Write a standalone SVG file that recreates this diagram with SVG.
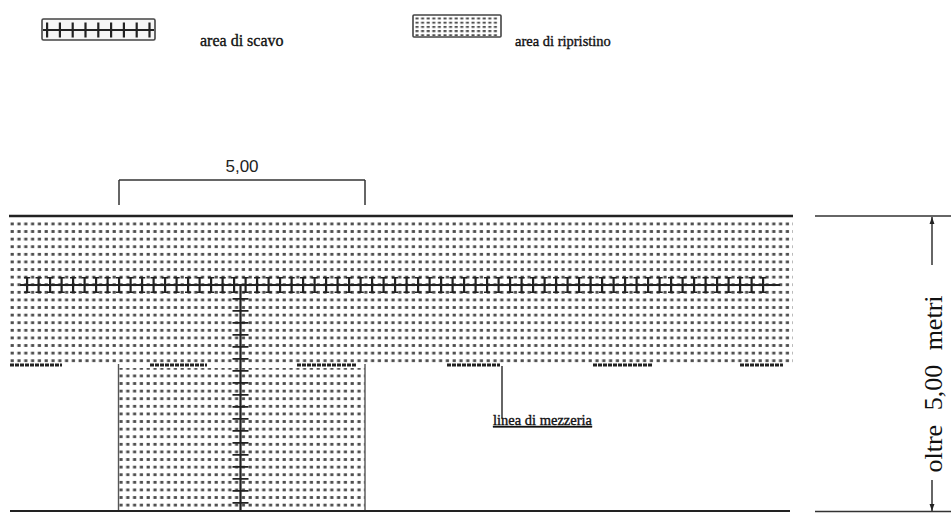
<svg xmlns="http://www.w3.org/2000/svg" width="951" height="513" viewBox="0 0 951 513">
<style>
.serif{font-family:"Liberation Serif","Times New Roman",serif;fill:#111;stroke:#111;stroke-width:0.35}
.sans{font-family:"Liberation Sans",Arial,sans-serif;fill:#222}
.ln{stroke:#333;fill:none}
.thin{stroke:#555;stroke-width:1.4;fill:none}
.tick{stroke:#222;fill:none}
</style>
<defs>
<pattern id="dots" patternUnits="userSpaceOnUse" x="10" y="222.5" width="6.8" height="7.6">
<rect x="0.6" y="0" width="3.2" height="2.8" fill="#4d4d4d"/>
</pattern>
<pattern id="dotsL" patternUnits="userSpaceOnUse" x="415" y="17.5" width="5.6" height="4.2">
<rect x="0.5" y="0" width="3" height="2" fill="#4d4d4d"/>
</pattern>
<marker id="arr" viewBox="0 0 10 10" refX="10" refY="5" markerWidth="7" markerHeight="7" orient="auto-start-reverse" markerUnits="userSpaceOnUse">
<path d="M0,1.5 L10,5 L0,8.5 z" fill="#222"/>
</marker>
</defs>

<g id="legend-scavo">
<rect x="42" y="19" width="113" height="21" rx="1.5" fill="#f6f6f6" stroke="#444" stroke-width="1.6"/>
<line class="tick" x1="43" y1="30" x2="154" y2="30" stroke-width="1.8"/>
<line class="tick" x1="46" y1="30" x2="154" y2="30" stroke-width="15" stroke-dasharray="2.2 10.6"/>
<text class="serif" x="200" y="46" font-size="16">area di scavo</text>
</g>

<g id="legend-ripristino">
<rect x="413" y="15" width="88" height="22" rx="1" fill="#fff" stroke="#444" stroke-width="1.6"/>
<rect x="415" y="17" width="84" height="19" fill="url(#dotsL)"/>
<text class="serif" x="515" y="46" font-size="14.5">area di ripristino</text>
</g>

<g id="band">
<rect x="10" y="220" width="783" height="146" fill="url(#dots)"/>
<line x1="9" y1="216" x2="793" y2="216" stroke="#222" stroke-width="2.6"/>
<g stroke="#222" stroke-width="3" stroke-dasharray="4 1">
<line x1="10" y1="365" x2="62" y2="365"/>
<line x1="150" y1="365" x2="207" y2="365"/>
<line x1="297" y1="365" x2="357" y2="365"/>
<line x1="447" y1="365" x2="500" y2="365"/>
<line x1="593" y1="365" x2="652" y2="365"/>
<line x1="740" y1="365" x2="783" y2="365"/>
</g>
</g>

<g id="column">
<rect x="119" y="368" width="246" height="143" fill="url(#dots)"/>
<line class="thin" x1="118.5" y1="364" x2="118.5" y2="511"/>
<line class="thin" x1="365" y1="364" x2="365" y2="511"/>
</g>

<g id="scavo-h">
<line class="tick" x1="20" y1="285" x2="780" y2="285" stroke-width="2"/>
<line class="tick" x1="26" y1="285" x2="770" y2="285" stroke-width="16" stroke-dasharray="2.2 9.3"/>
<line class="tick" x1="24" y1="277.8" x2="770" y2="277.8" stroke-width="1.6" stroke-dasharray="6.2 5.3"/>
<line class="tick" x1="24" y1="292.2" x2="770" y2="292.2" stroke-width="1.6" stroke-dasharray="6.2 5.3"/>
</g>

<g id="scavo-v">
<line class="tick" x1="240.5" y1="285" x2="240.5" y2="511" stroke-width="2.2"/>
<line class="tick" x1="240.5" y1="298" x2="240.5" y2="505" stroke-width="16" stroke-dasharray="1.8 10.2"/>
</g>

<g id="connectors">
<line class="ln" x1="119" y1="180" x2="365" y2="180" stroke-width="1.5"/>
<line class="ln" x1="119" y1="180" x2="119" y2="205" stroke-width="1.5"/>
<line class="ln" x1="365" y1="180" x2="365" y2="205" stroke-width="1.5"/>
<line class="ln" x1="502" y1="366" x2="502" y2="418" stroke-width="1.5"/>
<line class="ln" x1="815" y1="216" x2="951" y2="216" stroke-width="1.5"/>
<line class="ln" x1="815" y1="511.5" x2="951" y2="511.5" stroke-width="1.5"/>
<line class="ln" x1="932" y1="265" x2="932" y2="217" stroke-width="1.5" marker-end="url(#arr)"/>
<line class="ln" x1="932" y1="480" x2="932" y2="511" stroke-width="1.5" marker-end="url(#arr)"/>
<line x1="10" y1="511" x2="790" y2="511" stroke="#222" stroke-width="2"/>
</g>

<g id="labels">
<text class="sans" x="242" y="172" font-size="17" text-anchor="middle">5,00</text>
<text class="serif" x="493" y="425" font-size="14.5" text-decoration="underline">linea di mezzeria</text>
<text transform="translate(942,384) rotate(-90)" font-family="Liberation Serif,Times New Roman,serif" fill="#111" font-size="26" text-anchor="middle" word-spacing="8">oltre 5,00 metri</text>
</g>
</svg>
